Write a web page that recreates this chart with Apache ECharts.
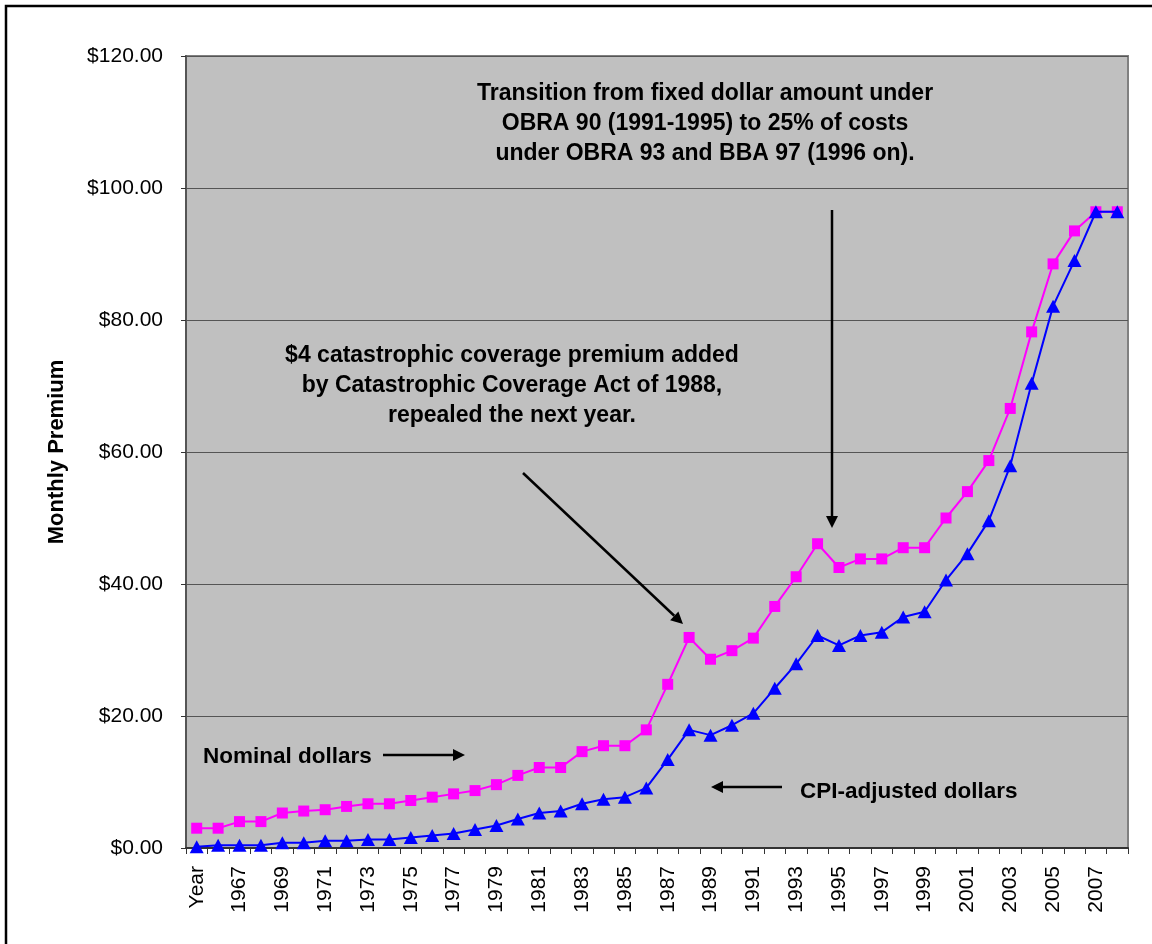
<!DOCTYPE html>
<html>
<head>
<meta charset="utf-8">
<script src="https://cdn.jsdelivr.net/npm/echarts@6/dist/echarts.min.js"></script>
<style>
html,body{margin:0;padding:0;background:#fff;}
#chart{width:1152px;height:944px;}
</style>
</head>
<body>
<div id="chart"></div>
<script>
// ---- data ----
var categories = ['Year','1966','1967','1968','1969','1970','1971','1972','1973','1974','1975','1976','1977','1978','1979','1980','1981','1982','1983','1984','1985','1986','1987','1988','1989','1990','1991','1992','1993','1994','1995','1996','1997','1998','1999','2000','2001','2002','2003','2004','2005','2006','2007','2008'];
var nominalDollars = [3.0,3.0,4.0,4.0,5.3,5.6,5.8,6.3,6.7,6.7,7.2,7.7,8.2,8.7,9.6,11.0,12.2,12.2,14.6,15.5,15.5,17.9,24.8,31.9,28.6,29.9,31.8,36.6,41.1,46.1,42.5,43.8,43.8,45.5,45.5,50.0,54.0,58.7,66.6,78.2,88.5,93.5,96.4,96.4];
var cpiAdjustedDollars = [0.2,0.4,0.4,0.4,0.8,0.8,1.1,1.1,1.3,1.3,1.6,1.9,2.2,2.8,3.4,4.4,5.3,5.6,6.7,7.4,7.7,9.1,13.4,17.9,17.1,18.6,20.4,24.2,27.9,32.2,30.7,32.2,32.7,35.0,35.8,40.6,44.6,49.6,57.9,70.4,82.1,89.0,96.4,96.4];
var yTicks = [0,20,40,60,80,100,120];

var FONT = "'Liberation Sans', Arial, sans-serif";

function arrow(x1, y1, x2, y2) {
  var dx = x2 - x1, dy = y2 - y1;
  var len = Math.sqrt(dx*dx + dy*dy);
  var ux = dx/len, uy = dy/len;
  var hl = 12, hw = 6;
  var bx = x2 - ux*hl, by = y2 - uy*hl;
  var px = -uy, py = ux;
  return [
    {type:'line', shape:{x1:x1,y1:y1,x2:bx,y2:by}, style:{stroke:'#000',lineWidth:2.5}, z:100},
    {type:'polygon', shape:{points:[[x2,y2],[bx+px*hw,by+py*hw],[bx-px*hw,by-py*hw]]}, style:{fill:'#000'}, z:100}
  ];
}

var graphics = [
  {type:'rect', shape:{x:6,y:6,width:1200,height:1000}, style:{fill:'none',stroke:'#000',lineWidth:2.5}, z:0, silent:true},
  {type:'text', x:705, y:124, z:100, style:{text:'Transition from fixed dollar amount under\nOBRA 90 (1991-1995) to 25% of costs\nunder OBRA 93 and BBA 97 (1996 on).', font:'bold 23px ' + FONT, fill:'#000', align:'center', verticalAlign:'middle', lineHeight:30}},
  {type:'text', x:512, y:386, z:100, style:{text:'$4 catastrophic coverage premium added\nby Catastrophic Coverage Act of 1988,\nrepealed the next year.', font:'bold 23px ' + FONT, fill:'#000', align:'center', verticalAlign:'middle', lineHeight:30}},
  {type:'text', x:203, y:757, z:100, style:{text:'Nominal dollars', font:'bold 22.5px ' + FONT, fill:'#000', align:'left', verticalAlign:'middle'}},
  {type:'text', x:800, y:792, z:100, style:{text:'CPI-adjusted dollars', font:'bold 22.5px ' + FONT, fill:'#000', align:'left', verticalAlign:'middle'}}
];
graphics = graphics.concat(arrow(832,210,832,528));
graphics = graphics.concat(arrow(523,473,683,624));
graphics = graphics.concat(arrow(383,755,465,755));
graphics = graphics.concat(arrow(782,787,711,787));

var chart = echarts.init(document.getElementById('chart'), null, {renderer:'canvas'});
chart.setOption({
  animation:false,
  backgroundColor:'#fff',
  textStyle:{fontFamily:FONT},
  grid:{left:186, top:56, right:24, bottom:96, show:true, backgroundColor:'#C0C0C0', borderColor:'#808080', borderWidth:2},
  xAxis:{
    type:'category',
    data:categories,
    boundaryGap:true,
    axisLine:{show:true, lineStyle:{color:'#333', width:2}},
    axisTick:{show:true, inside:false, length:6, interval:0, lineStyle:{color:'#333', width:1}},
    axisLabel:{interval:1, rotate:90, margin:18, fontSize:21, color:'#000', fontFamily:FONT},
    splitLine:{show:false}
  },
  yAxis:{
    type:'value',
    min:0, max:120, interval:20,
    name:'Monthly Premium',
    nameLocation:'middle',
    nameGap:118,
    nameRotate:90,
    nameTextStyle:{fontSize:22, fontWeight:'bold', color:'#000', fontFamily:FONT},
    axisLine:{show:true, lineStyle:{color:'#555', width:2}},
    axisTick:{show:true, inside:false, length:5, lineStyle:{color:'#333'}},
    axisLabel:{margin:23, fontSize:21, color:'#000', fontFamily:FONT, formatter:function(v){return '$' + v.toFixed(2);}},
    splitLine:{show:true, lineStyle:{color:'#555', width:1}}
  },
  series:[
    {name:'Nominal dollars', type:'line', data:nominalDollars, symbol:'rect', symbolSize:11, showAllSymbol:true,
     lineStyle:{color:'#FF00FF', width:2}, itemStyle:{color:'#FF00FF'}, z:3},
    {name:'CPI-adjusted dollars', type:'line', data:cpiAdjustedDollars, symbol:'triangle', symbolSize:[14,13], showAllSymbol:true,
     lineStyle:{color:'#0000FF', width:2}, itemStyle:{color:'#0000FF'}, z:4}
  ],
  graphic:graphics
});
</script>
</body>
</html>
